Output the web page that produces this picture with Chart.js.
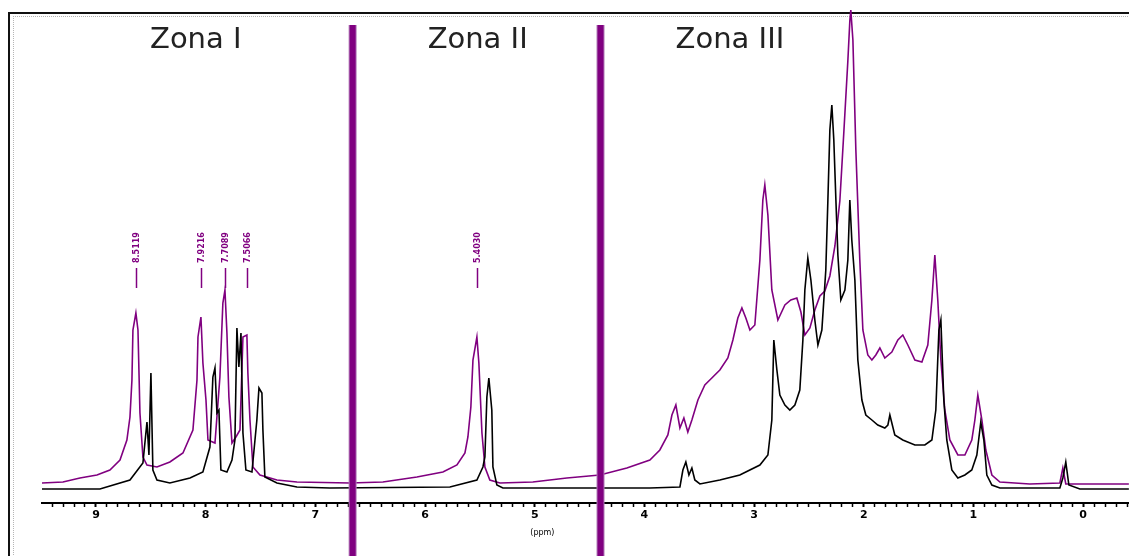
<!DOCTYPE html>
<html>
<head>
<meta charset="utf-8">
<title>Espectro RMN 1H - Zonas</title>
<script src="https://cdn.jsdelivr.net/npm/chart.js@4.4.1/dist/chart.umd.min.js"></script>
<style>
  html, body { margin: 0; padding: 0; background: #fff; }
  #wrap   { position: relative; width: 1129px; height: 556px; overflow: hidden; }
  #frame  { position: absolute; left: 8px;  top: 12px; width: 1200px; height: 600px;
            border-left: 2px solid #111; border-top: 2px solid #111; }
  #frame2 { position: absolute; left: 13px; top: 16px; width: 1200px; height: 600px;
            border-left: 1px dotted #b5b5b5; border-top: 1px dotted #b5b5b5; }
  canvas  { position: absolute; left: 0; top: 0; }
</style>
</head>
<body>
<div id="wrap">
  <div id="frame"></div>
  <div id="frame2"></div>
  <canvas id="nmr" width="1129" height="556"></canvas>
</div>
<script>
// ── Black spectrum (ppm / intensity, arbitrary units)
const blackPpm = [9.492, 8.964, 8.690, 8.572, 8.535, 8.517, 8.499, 8.481, 8.444, 8.326,
  8.143, 8.025, 7.961, 7.934, 7.915, 7.897, 7.879, 7.861, 7.806, 7.760,
  7.733, 7.715, 7.697, 7.678, 7.660, 7.633, 7.578, 7.533, 7.514, 7.487,
  7.478, 7.460, 7.350, 7.168, 6.867, 5.773, 5.527, 5.472, 5.454, 5.436,
  5.418, 5.391, 5.381, 5.345, 5.290, 3.950, 3.676, 3.649, 3.622, 3.594,
  3.567, 3.540, 3.494, 3.312, 3.130, 2.947, 2.874, 2.838, 2.820, 2.792,
  2.765, 2.719, 2.674, 2.628, 2.583, 2.555, 2.537, 2.510, 2.482, 2.446,
  2.418, 2.382, 2.346, 2.327, 2.309, 2.291, 2.273, 2.254, 2.236, 2.209,
  2.172, 2.145, 2.127, 2.109, 2.081, 2.054, 2.017, 1.981, 1.926, 1.872,
  1.808, 1.780, 1.762, 1.717, 1.644, 1.534, 1.443, 1.379, 1.343, 1.315,
  1.297, 1.270, 1.243, 1.197, 1.142, 1.078, 1.015, 0.969, 0.933, 0.905,
  0.878, 0.832, 0.759, 0.212, 0.185, 0.158, 0.130, 0.030, -0.417];
const blackInt = [2, 2, 11, 28, 69, 36, 118, 21, 11, 8,
  13, 19, 44, 114, 123, 78, 81, 21, 19, 31,
  51, 163, 124, 158, 58, 21, 19, 71, 103, 98,
  61, 14, 8, 4, 3, 4, 11, 24, 34, 94,
  113, 81, 24, 6, 3, 3, 4, 21, 29, 16,
  23, 11, 7, 11, 16, 26, 36, 71, 151, 121,
  96, 86, 81, 86, 101, 151, 201, 233, 211, 171,
  146, 161, 221, 291, 361, 386, 351, 291, 236, 191,
  201, 231, 291, 251, 211, 131, 91, 76, 71, 66,
  63, 66, 76, 56, 51, 46, 46, 51, 81, 161,
  171, 91, 51, 21, 13, 16, 21, 36, 69, 51,
  16, 6, 3, 3, 13, 29, 6, 2, 2];

// ── Purple spectrum
const purplePpm = [9.492, 9.301, 9.146, 8.991, 8.873, 8.781, 8.718, 8.690, 8.672, 8.663,
  8.636, 8.617, 8.599, 8.572, 8.535, 8.444, 8.326, 8.207, 8.116, 8.079,
  8.070, 8.043, 8.025, 7.997, 7.979, 7.915, 7.870, 7.843, 7.824, 7.806,
  7.788, 7.760, 7.724, 7.687, 7.660, 7.624, 7.615, 7.596, 7.569, 7.505,
  7.350, 7.168, 6.685, 6.384, 6.074, 5.837, 5.709, 5.636, 5.609, 5.582,
  5.563, 5.527, 5.509, 5.481, 5.454, 5.409, 5.317, 5.017, 4.707, 4.406,
  4.160, 3.950, 3.859, 3.786, 3.749, 3.713, 3.676, 3.640, 3.604, 3.567,
  3.512, 3.449, 3.385, 3.312, 3.239, 3.193, 3.148, 3.111, 3.075, 3.038,
  2.993, 2.947, 2.920, 2.902, 2.874, 2.838, 2.783, 2.719, 2.665, 2.610,
  2.573, 2.537, 2.491, 2.446, 2.400, 2.355, 2.309, 2.263, 2.218, 2.181,
  2.145, 2.127, 2.118, 2.099, 2.072, 2.036, 2.008, 1.963, 1.926, 1.890, 1.853,
  1.808, 1.744, 1.689, 1.644, 1.598, 1.534, 1.470, 1.416, 1.379, 1.352,
  1.325, 1.297, 1.261, 1.215, 1.142, 1.078, 1.015, 0.987, 0.960, 0.923,
  0.887, 0.832, 0.759, 0.486, 0.212, 0.185, 0.158, -0.152, -0.417];
const purpleInt = [8, 9, 13, 16, 21, 31, 51, 74, 111, 161,
  178, 161, 78, 34, 26, 24, 29, 38, 61, 111,
  154, 174, 128, 91, 51, 48, 114, 188, 201, 158,
  94, 48, 54, 61, 154, 156, 118, 71, 24, 16,
  11, 9, 8, 9, 14, 19, 26, 38, 54, 84,
  131, 154, 128, 58, 24, 11, 8, 9, 13, 16,
  23, 31, 41, 56, 76, 86, 63, 73, 59, 71,
  91, 106, 113, 121, 133, 151, 173, 183, 173, 161,
  166, 231, 291, 306, 276, 201, 171, 186, 191, 193,
  179, 156, 163, 181, 195, 200, 215, 245, 290, 360,
  430, 470, 481, 451, 341, 231, 161, 136, 131, 136, 143,
  133, 139, 151, 156, 146, 131, 129, 146, 191, 236,
  191, 131, 81, 51, 36, 36, 51, 71, 96, 71,
  41, 16, 9, 7, 8, 23, 7, 7, 7];

// ── Annotations
const zoneNames  = ['Zona I', 'Zona II', 'Zona III'];
const zoneCenter = [8.09, 5.52, 3.22];   // ppm where each title sits
const zoneBounds = [6.66, 4.40];         // ppm of the two dividers
const peakLabels = ['8.5119', '7.9216', '7.7089', '7.5066', '5.4030'];
const peakPpm    = [8.636, 8.043, 7.824, 7.624, 5.527];
const unitLabelPpm = 4.93;               // where "(ppm)" sits

const PURPLE = '#800080';

const toXY = (xs, ys) => xs.map((x, i) => ({ x: x, y: ys[i] }));

const isMajor = v => Math.abs(v - Math.round(v)) < 1e-6;

// ── Dividers, zone titles, peak labels and unit label
const annotate = {
  id: 'annotate',
  afterDatasetsDraw(chart) {
    const ctx = chart.ctx;
    const xs = chart.scales.x, ys = chart.scales.y;
    ctx.save();

    // peak labels: rotated text + short tick
    ctx.fillStyle = PURPLE;
    ctx.strokeStyle = PURPLE;
    ctx.lineWidth = 1.5;
    ctx.font = 'bold 8px "DejaVu Sans"';
    peakPpm.forEach((p, i) => {
      const px = Math.round(xs.getPixelForValue(p)) + 0.5;
      ctx.beginPath();
      ctx.moveTo(px, ys.getPixelForValue(223));
      ctx.lineTo(px, ys.getPixelForValue(203));
      ctx.stroke();
      ctx.save();
      ctx.translate(px, ys.getPixelForValue(228));
      ctx.rotate(-Math.PI / 2);
      ctx.textAlign = 'left';
      ctx.textBaseline = 'middle';
      ctx.fillText(peakLabels[i], 0, 0);
      ctx.restore();
    });

    // unit label under the axis
    ctx.fillStyle = '#000';
    ctx.font = '8px "DejaVu Sans"';
    ctx.textAlign = 'center';
    ctx.textBaseline = 'middle';
    ctx.fillText('(ppm)', xs.getPixelForValue(unitLabelPpm), 533);

    // zone dividers
    zoneBounds.forEach(p => {
      const px = xs.getPixelForValue(p);
      ctx.fillStyle = '#b27ab8';
      ctx.fillRect(px - 4, 25, 8, chart.height - 25);
      ctx.fillStyle = PURPLE;
      ctx.fillRect(px - 3, 25, 6, chart.height - 25);
    });

    // zone titles
    ctx.fillStyle = '#222';
    ctx.font = '29px "DejaVu Sans"';
    ctx.textAlign = 'center';
    ctx.textBaseline = 'middle';
    zoneNames.forEach((z, i) => {
      ctx.fillText(z, xs.getPixelForValue(zoneCenter[i]), 40);
    });

    ctx.restore();
  }
};

new Chart(document.getElementById('nmr'), {
  type: 'line',
  data: {
    datasets: [
      {
        label: 'black',
        data: toXY(blackPpm, blackInt),
        borderColor: '#000',
        borderWidth: 1.6,
        pointRadius: 0,
        tension: 0,
        order: 0,
      },
      {
        label: 'purple',
        data: toXY(purplePpm, purpleInt),
        borderColor: PURPLE,
        borderWidth: 1.6,
        pointRadius: 0,
        tension: 0,
        order: 1,
      },
    ],
  },
  options: {
    responsive: false,
    animation: false,
    clip: false,
    layout: { padding: { left: 42, right: 0, top: 11, bottom: 0 } },
    plugins: {
      legend:  { display: false },
      tooltip: { enabled: false },
    },
    scales: {
      x: {
        type: 'linear',
        reverse: true,
        min: -0.417,
        max: 9.492,
        afterFit: s => { s.height = 53; },
        border: { display: true, color: '#000', width: 2 },
        grid: {
          drawOnChartArea: false,
          drawTicks: true,
          tickLength: 4,
          tickColor: '#000',
          tickWidth: c => (c.tick && isMajor(c.tick.value)) ? 2 : 1.5,
        },
        ticks: {
          stepSize: 0.1,
          includeBounds: false,
          autoSkip: false,
          maxRotation: 0,
          padding: 2,
          color: '#000',
          font: { family: 'DejaVu Sans', size: 11, weight: 'bold' },
          callback: v => isMajor(v) ? String(Math.round(v)) : '',
        },
      },
      y: {
        display: false,
        min: -12,
        max: 480,
      },
    },
  },
  plugins: [annotate],
});
</script>
</body>
</html>
